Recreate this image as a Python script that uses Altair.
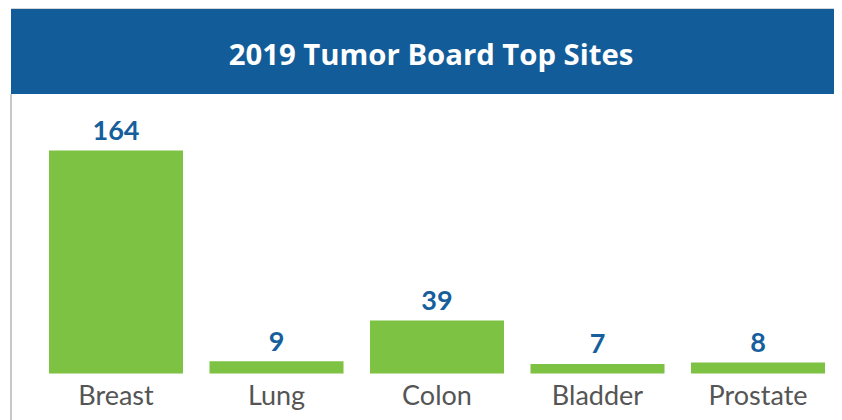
import altair as alt
import pandas as pd

categories = ["Breast", "Lung", "Colon", "Bladder", "Prostate"]
values = [164, 9, 39, 7, 8]
title_text = "2019 Tumor Board Top Sites"

BLUE = "#125D99"
GREEN = "#7DC243"
LABEL_BLUE = "#165E9C"
GRAY_TEXT = "#555555"
FONT = "Lato"

df = pd.DataFrame({"site": categories, "count": values})
one = pd.DataFrame({"t": [title_text]})

xs = alt.X("site:N", sort=categories, axis=None,
           scale=alt.Scale(range=[27.75, 830.25], paddingInner=0.165, paddingOuter=0.0825))
ys = alt.Y("count:Q", axis=None, scale=alt.Scale(domain=[0, 164], range=[365.5, 142.5], nice=False, zero=True))

header = alt.Chart(one).mark_rect(color=BLUE).encode(
    x=alt.value(3), x2=alt.value(826), y=alt.value(1), y2=alt.value(86))
top_line = alt.Chart(one).mark_rule(color="#D5D5D5", strokeWidth=1).encode(
    x=alt.value(3), x2=alt.value(826), y=alt.value(0.5))
left_line = alt.Chart(one).mark_rule(color="#C8C8C8", strokeWidth=2).encode(
    x=alt.value(3), y=alt.value(86), y2=alt.value(412))
title = alt.Chart(one).mark_text(color="white", font="Open Sans", fontWeight="bold", fontSize=29.3,
                                 align="center", baseline="alphabetic").encode(
    x=alt.value(423), y=alt.value(56.5), text="t:N")

bars = alt.Chart(df).mark_bar(color=GREEN).encode(x=xs, y=ys)
vals = alt.Chart(df).mark_text(color=LABEL_BLUE, font=FONT, fontWeight="bold", fontSize=27,
                               baseline="alphabetic", dy=-10.5).encode(
    x=xs, y=ys, text="count:Q")
cats = alt.Chart(df).mark_text(color=GRAY_TEXT, font=FONT, fontSize=27,
                               baseline="alphabetic").encode(
    x=xs, y=alt.value(397), text="site:N")

chart = alt.layer(header, top_line, left_line, title, bars, vals, cats).properties(
    width=826, height=412, autosize=alt.AutoSizeParams(type="none"),
    padding={"left": 0, "top": 0, "right": 0, "bottom": 0},
    background="white",
).configure_view(stroke=None)

chart.save("out.html", embed_options={"renderer": "svg", "actions": False})
